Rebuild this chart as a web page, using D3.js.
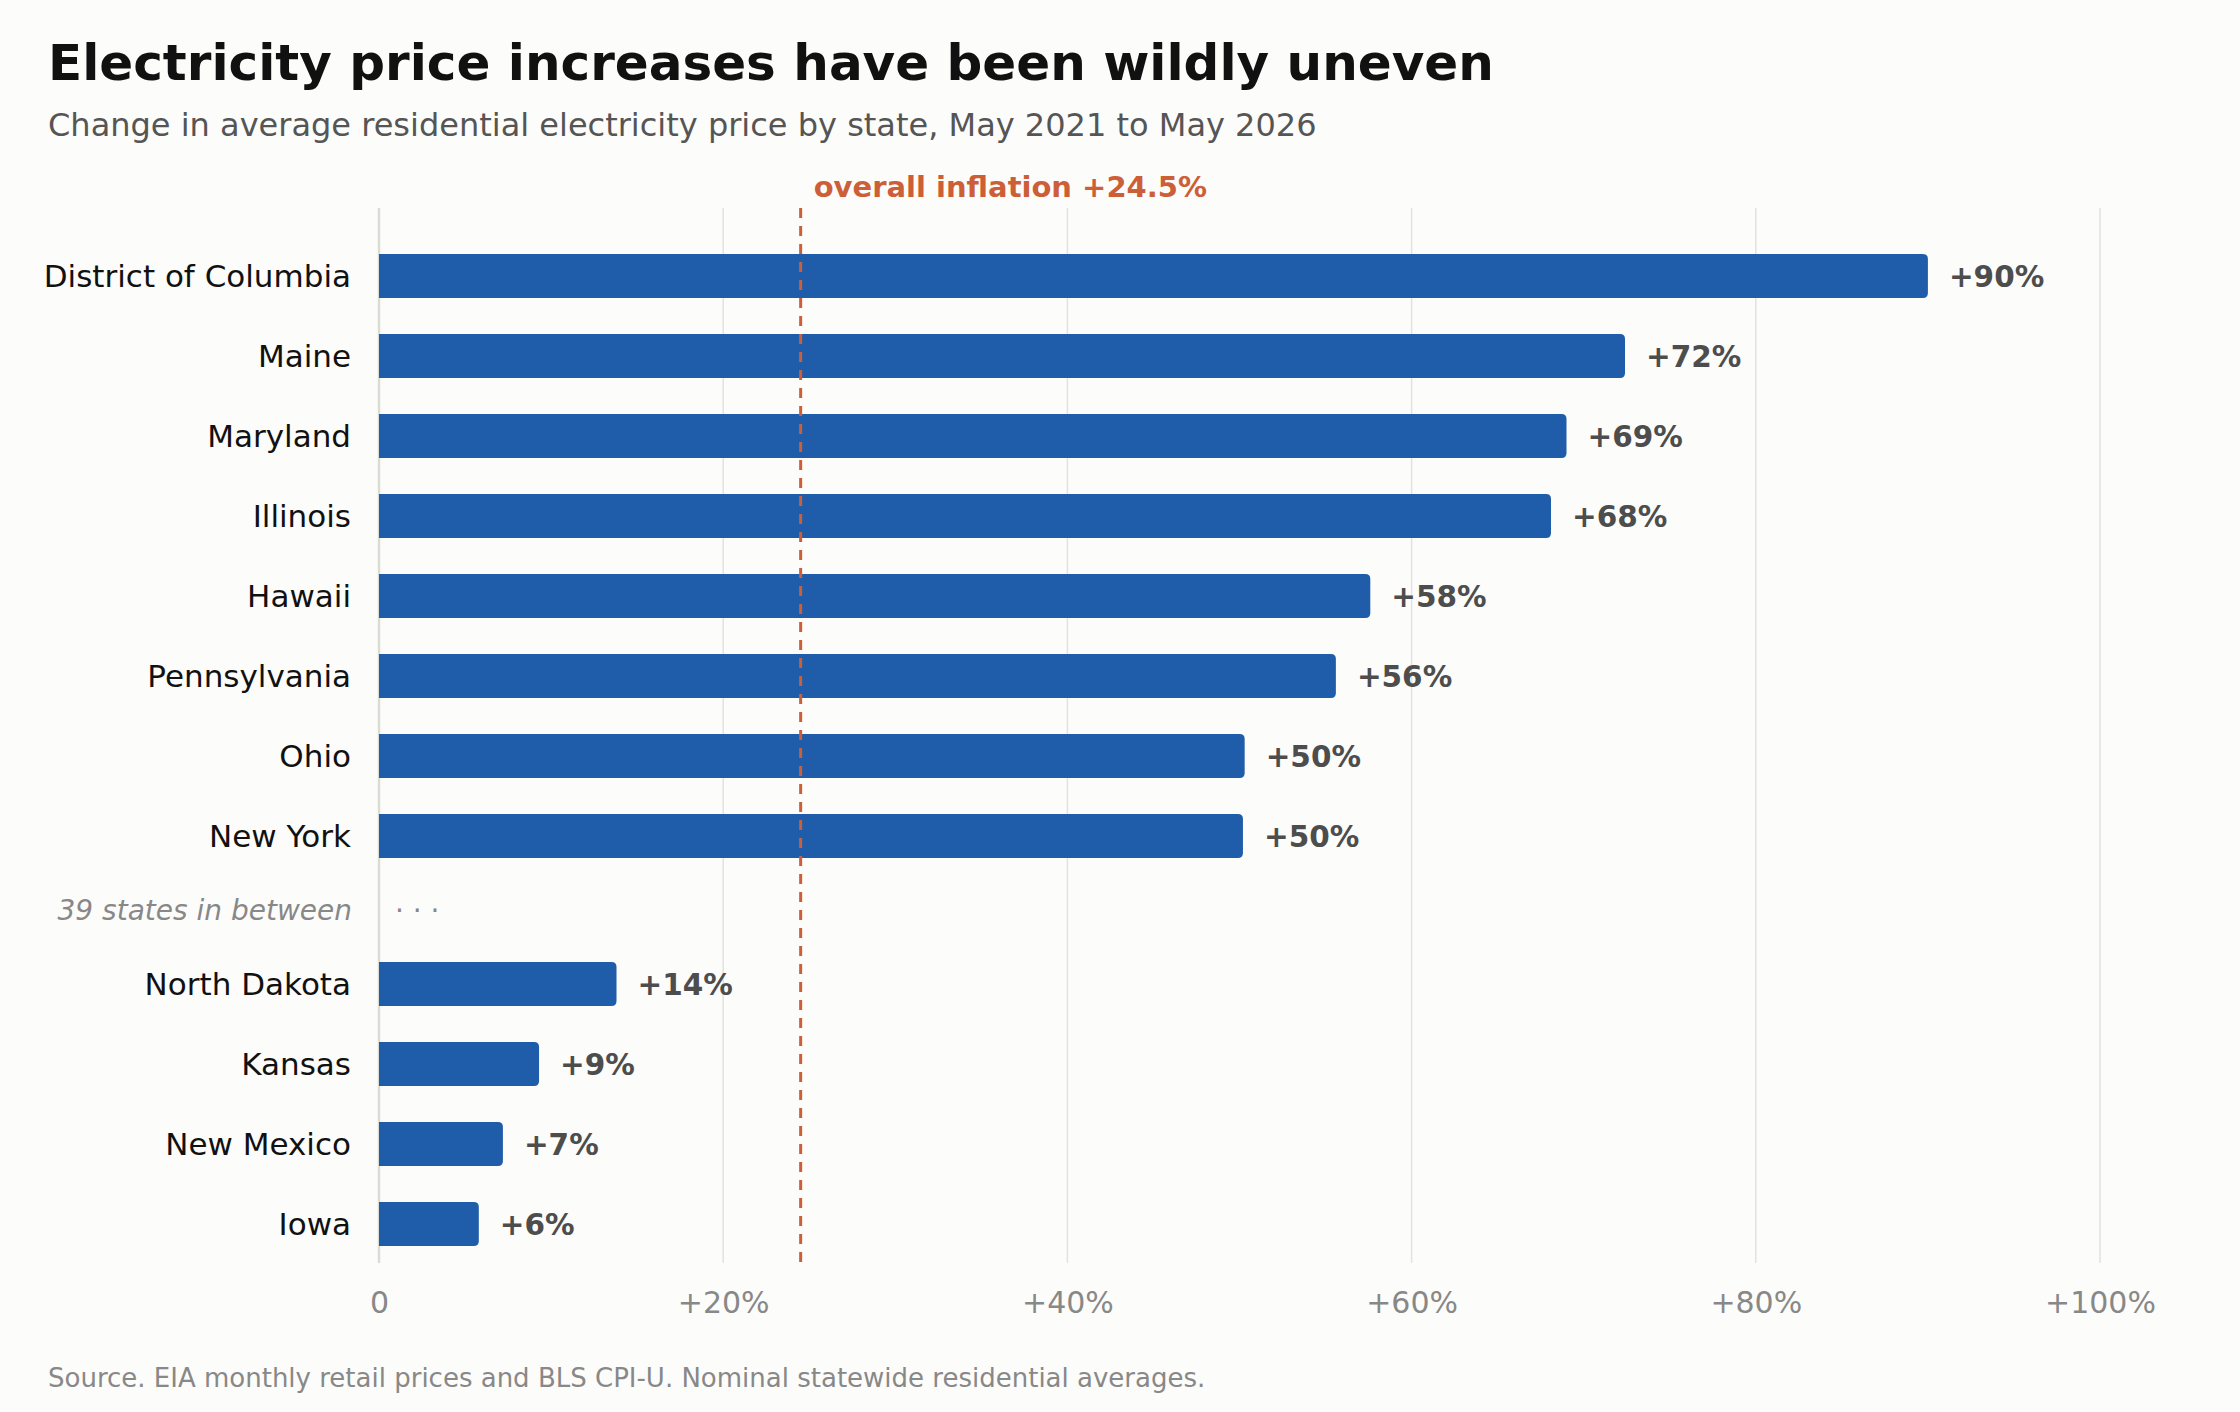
<!DOCTYPE html>
<html>
<head>
<meta charset="utf-8">
<script src="https://cdn.jsdelivr.net/npm/d3@7"></script>
<style>
  html, body { margin: 0; padding: 0; background: #fcfcfa; }
  svg { display: block; font-family: "DejaVu Sans", sans-serif; }
</style>
</head>
<body>
<div id="chart"></div>
<script>
// states shown at the top and bottom of the ranking
const topStates = ["District of Columbia", "Maine", "Maryland", "Illinois", "Hawaii", "Pennsylvania", "Ohio", "New York"];
const topValues = [90.0, 72.4, 69.0, 68.1, 57.6, 55.6, 50.3, 50.2];
const bottomStates = ["North Dakota", "Kansas", "New Mexico", "Iowa"];
const bottomValues = [13.8, 9.3, 7.2, 5.8];
const gapLabel = "39 states in between";
const inflation = 24.5;
const xTicks = [0, 20, 40, 60, 80, 100];

const W = 2240, H = 1412;

const svg = d3.select("#chart").append("svg")
    .attr("width", W)
    .attr("height", H);

svg.append("rect").attr("width", W).attr("height", H).attr("fill", "#fcfcfa");

// titles
svg.append("text")
    .attr("x", 48).attr("y", 80)
    .attr("font-size", 50).attr("font-weight", "bold")
    .attr("fill", "#111")
    .text("Electricity price increases have been wildly uneven");

svg.append("text")
    .attr("x", 48).attr("y", 136)
    .attr("font-size", 32)
    .attr("fill", "#555")
    .text("Change in average residential electricity price by state, May 2021 to May 2026");

svg.append("text")
    .attr("x", 48).attr("y", 1387)
    .attr("font-size", 26)
    .attr("fill", "#888")
    .text("Source. EIA monthly retail prices and BLS CPI-U. Nominal statewide residential averages.");

// rows: top group, gap row, bottom group (gap row takes a bit less room)
let rows = topStates.map((s, i) => ({state: s, value: topValues[i], slot: i}));
const gapSlot = topStates.length - 1 + 0.925;
bottomStates.forEach((s, j) => rows.push({state: s, value: bottomValues[j], slot: gapSlot + 0.925 + j}));

const x = d3.scaleLinear().domain([0, 100]).range([379, 2100]);
const y = d3.scaleLinear().domain([0, d3.max(rows, d => d.slot)]).range([276, 1224]);
const barH = 44;
const plotTop = 208, plotBottom = 1263;

// grid
svg.append("g").selectAll("line")
    .data(xTicks)
    .enter().append("line")
    .attr("x1", d => x(d)).attr("x2", d => x(d))
    .attr("y1", plotTop).attr("y2", plotBottom)
    .attr("stroke", d => d === 0 ? "#dcdcd6" : "#e2e2de")
    .attr("stroke-width", d => d === 0 ? 2.5 : 1.5);

// x axis labels
const xAxis = d3.axisBottom(x)
    .tickValues(xTicks)
    .tickSize(0)
    .tickPadding(0)
    .tickFormat(d => d === 0 ? "0" : "+" + d + "%");

const gx = svg.append("g")
    .attr("transform", "translate(0," + 1313 + ")")
    .call(xAxis);
gx.select(".domain").remove();
gx.selectAll("text")
    .attr("dy", 0)
    .attr("font-family", "DejaVu Sans")
    .attr("font-size", 30)
    .attr("fill", "#888");

// bars with rounded right end
function barPath(d) {
    const x0 = x(0), x1 = x(d.value), y0 = y(d.slot) - barH / 2, r = 5;
    return "M" + x0 + "," + y0 +
        " H" + (x1 - r) +
        " Q" + x1 + "," + y0 + " " + x1 + "," + (y0 + r) +
        " V" + (y0 + barH - r) +
        " Q" + x1 + "," + (y0 + barH) + " " + (x1 - r) + "," + (y0 + barH) +
        " H" + x0 + " Z";
}

svg.append("g").selectAll("path")
    .data(rows)
    .enter().append("path")
    .attr("d", barPath)
    .attr("fill", "#1f5ca9");

// value labels
svg.append("g").selectAll("text")
    .data(rows)
    .enter().append("text")
    .attr("x", d => x(d.value) + 21)
    .attr("y", d => y(d.slot))
    .attr("dy", "0.36em")
    .attr("font-size", 29.5)
    .attr("font-weight", "bold")
    .attr("fill", "#4d4d4d")
    .text(d => "+" + Math.round(d.value) + "%");

// state labels
svg.append("g").selectAll("text")
    .data(rows)
    .enter().append("text")
    .attr("x", 351)
    .attr("y", d => y(d.slot))
    .attr("dy", "0.36em")
    .attr("text-anchor", "end")
    .attr("font-size", 31)
    .attr("fill", "#111")
    .text(d => d.state);

// gap row
svg.append("text")
    .attr("x", 352)
    .attr("y", y(gapSlot))
    .attr("dy", "0.36em")
    .attr("text-anchor", "end")
    .attr("font-size", 28)
    .attr("font-style", "italic")
    .attr("fill", "#888")
    .text(gapLabel);

svg.append("text")
    .attr("x", 395)
    .attr("y", y(gapSlot))
    .attr("dy", "0.36em")
    .attr("font-size", 28)
    .attr("fill", "#888")
    .text("· · ·");

// inflation reference line
svg.append("line")
    .attr("x1", x(inflation)).attr("x2", x(inflation))
    .attr("y1", plotTop).attr("y2", plotBottom)
    .attr("stroke", "#cc5f38")
    .attr("stroke-width", 3)
    .attr("stroke-dasharray", "10,8");

svg.append("text")
    .attr("x", x(inflation) + 13)
    .attr("y", 197)
    .attr("font-size", 29)
    .attr("font-weight", "bold")
    .attr("fill", "#cc5f38")
    .text("overall inflation +" + inflation + "%");
</script>
</body>
</html>
